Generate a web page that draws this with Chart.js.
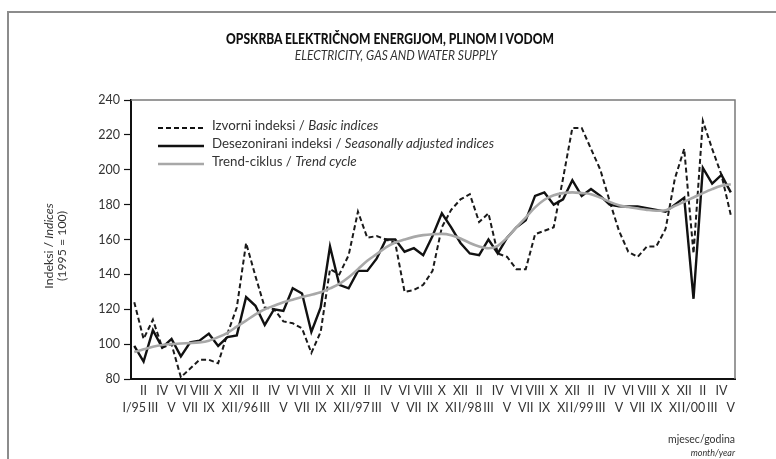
<!DOCTYPE html>
<html>
<head>
<meta charset="utf-8">
<script src="https://cdn.jsdelivr.net/npm/chart.js@4.4.1/dist/chart.umd.min.js"></script>
<style>
  body { margin: 0; background: #fff; }
  #wrap { position: relative; width: 776px; height: 459px; overflow: hidden; font-family: Lato, "Open Sans", sans-serif; color: #222; }
  #frame { position: absolute; left: 7px; top: 11px; width: 820px; height: 520px; border: 2px solid #8c8c8c; box-sizing: border-box; }
  canvas { position: absolute; left: 0; top: 0; }
  .t { position: absolute; white-space: nowrap; }
  #title { left: 2px; width: 776px; top: 30px; text-align: center; font-weight: 900; font-size: 14.5px; color: #111; transform: scaleX(0.83); }
  #subtitle { left: 8px; width: 776px; top: 48px; text-align: center; font-style: italic; font-size: 12.6px; color: #333; transform: scaleX(0.95); }
  .ytitle { font-size: 12.3px; color: #333; transform: translate(-50%, -50%) rotate(-90deg); }
  .legend { position: absolute; left: 158px; font-size: 13.3px; color: #333; }
  .legend svg { position: absolute; left: 0; top: 5px; }
  .legend span { position: absolute; left: 54px; top: -4px; white-space: nowrap; }
  #unit1 { right: 41px; top: 433px; font-size: 10.5px; color: #333; }
  #unit2 { right: 41px; top: 447px; font-size: 9px; font-style: italic; color: #333; }
</style>
</head>
<body>
<div id="wrap">
  <div id="frame"></div>
  <canvas id="chart" width="776" height="459"></canvas>
  <div class="t" id="title">OPSKRBA ELEKTRIČNOM ENERGIJOM, PLINOM I VODOM</div>
  <div class="t" id="subtitle">ELECTRICITY, GAS AND WATER SUPPLY</div>
  <div class="t ytitle" style="left:48px; top:246px;">Indeksi / <i>Indices</i></div>
  <div class="t ytitle" style="left:61px; top:246px;">(1995 = 100)</div>
  <div class="legend" style="top:121px;">
    <svg width="46" height="4"><line x1="0" y1="2" x2="46" y2="2" stroke="#111" stroke-width="2" stroke-dasharray="5 3"/></svg>
    <span>Izvorni indeksi / <i>Basic indices</i></span>
  </div>
  <div class="legend" style="top:139px;">
    <svg width="46" height="4"><line x1="0" y1="2" x2="46" y2="2" stroke="#111" stroke-width="2.6"/></svg>
    <span>Desezonirani indeksi / <i>Seasonally adjusted indices</i></span>
  </div>
  <div class="legend" style="top:157px;">
    <svg width="46" height="4"><line x1="0" y1="2" x2="46" y2="2" stroke="#a8a8a8" stroke-width="2.6"/></svg>
    <span>Trend-ciklus / <i>Trend cycle</i></span>
  </div>
  <div class="t" id="unit1">mjesec/godina</div>
  <div class="t" id="unit2">month/year</div>
</div>

<script>
// Period labels, monthly I/1995 - V/2000
const periods = [
  'I/95','II','III','IV','V','VI','VII','VIII','IX','X','XI','XII',
  'I/96','II','III','IV','V','VI','VII','VIII','IX','X','XI','XII',
  'I/97','II','III','IV','V','VI','VII','VIII','IX','X','XI','XII',
  'I/98','II','III','IV','V','VI','VII','VIII','IX','X','XI','XII',
  'I/99','II','III','IV','V','VI','VII','VIII','IX','X','XI','XII',
  'I/00','II','III','IV','V'
];

// Izvorni indeksi / Basic indices
const basicIndices = [
  124, 103, 114, 98, 100, 81, 86, 91, 91, 89, 106, 121,
  158, 139, 121, 120, 113, 112, 109, 95, 107, 143, 140, 151,
  176, 161, 162, 160, 158, 130, 131, 134, 142, 167, 177, 183,
  186, 170, 175, 152, 150, 143, 143, 163, 165, 167, 195, 224,
  224, 212, 200, 182, 165, 153, 150, 156, 156, 166, 195, 212,
  152, 228, 212, 197, 174
];

// Desezonirani indeksi / Seasonally adjusted indices
const adjustedIndices = [
  99, 90, 108, 98, 103, 93, 101, 102, 106, 99, 104, 105,
  127, 122, 111, 120, 119, 132, 129, 107, 121, 156, 134, 132,
  142, 142, 149, 160, 160, 153, 155, 151, 162, 175, 167, 158,
  152, 151, 160, 152, 161, 167, 171, 185, 187, 180, 183, 194,
  185, 189, 185, 180, 179, 179, 179, 178, 177, 176, 180, 184,
  126, 201, 192, 197, 187
];

// Trend-ciklus / Trend cycle
const trendCycle = [
  95.5, 97, 98.5, 99.5, 100, 100.4, 100.6, 101, 102, 104, 106.5, 110,
  113.5, 117, 120, 122, 124, 125.5, 127, 128.3, 129.7, 132, 134.5, 138.3,
  143, 147.8, 151.6, 155.5, 158.3, 160, 161.5, 162.5, 163, 163.2, 162.5, 160.6,
  158, 156, 155, 156.4, 161, 167, 172.6, 178.4, 182.8, 185.4, 186.6, 187,
  186.6, 186, 184, 181.6, 179.7, 178.6, 177.8, 177, 176.5, 176.8, 179.3, 181.6,
  184.1, 186.6, 188.9, 190.8, 191.7
];

const yTicks = [80, 100, 120, 140, 160, 180, 200, 220, 240];

const toXY = arr => arr.map((v, i) => ({ x: i, y: v }));

// gray top and right frame of the plot
const plotFrame = {
  id: 'plotFrame',
  afterDraw(chart) {
    const { ctx, chartArea: a } = chart;
    ctx.save();
    ctx.strokeStyle = '#7a7a7a';
    ctx.lineWidth = 1.5;
    ctx.beginPath();
    ctx.moveTo(a.left, a.top);
    ctx.lineTo(a.right, a.top);
    ctx.lineTo(a.right, a.bottom);
    ctx.stroke();
    ctx.restore();
  }
};

new Chart(document.getElementById('chart'), {
  type: 'line',
  data: {
    datasets: [
      {
        label: 'Trend-ciklus / Trend cycle',
        data: toXY(trendCycle),
        borderColor: '#a8a8a8',
        borderWidth: 2.6,
        pointRadius: 0,
        cubicInterpolationMode: 'monotone',
        order: 0
      },
      {
        label: 'Desezonirani indeksi / Seasonally adjusted indices',
        data: toXY(adjustedIndices),
        borderColor: '#111',
        borderWidth: 2.4,
        pointRadius: 0,
        tension: 0,
        order: 1
      },
      {
        label: 'Izvorni indeksi / Basic indices',
        data: toXY(basicIndices),
        borderColor: '#1a1a1a',
        borderWidth: 2,
        borderDash: [5, 3],
        pointRadius: 0,
        tension: 0,
        order: 2
      }
    ]
  },
  options: {
    responsive: false,
    animation: false,
    layout: { padding: { left: 0, top: 100, right: 41, bottom: 0 } },
    plugins: { legend: { display: false }, tooltip: { enabled: false } },
    scales: {
      x: {
        type: 'linear',
        min: -0.35,
        max: periods.length - 1 + 0.45,
        grid: { display: false, drawTicks: false },
        border: { color: '#111', width: 2 },
        ticks: {
          stepSize: 1,
          includeBounds: false,
          autoSkip: false,
          maxRotation: 0,
          minRotation: 0,
          padding: 3,
          color: '#333',
          font: { family: 'Lato', size: 12.5, lineHeight: 1.4 },
          callback: (v) => {
            const lbl = periods[v];
            if (lbl === undefined) return '';
            return v % 2 === 0 ? ['', lbl] : [lbl, ''];
          }
        },
        afterFit: s => { s.height = 80; }
      },
      y: {
        min: yTicks[0],
        max: yTicks[yTicks.length - 1],
        afterBuildTicks: s => { s.ticks = yTicks.map(v => ({ value: v })); },
        grid: { drawOnChartArea: false, tickLength: 7, color: '#111', tickWidth: 1.2 },
        border: { color: '#111', width: 2 },
        ticks: { padding: 4, color: '#333', font: { family: 'Lato', size: 12.5 } },
        afterFit: s => { s.width = 131; }
      }
    }
  },
  plugins: [plotFrame]
});
</script>
</body>
</html>
